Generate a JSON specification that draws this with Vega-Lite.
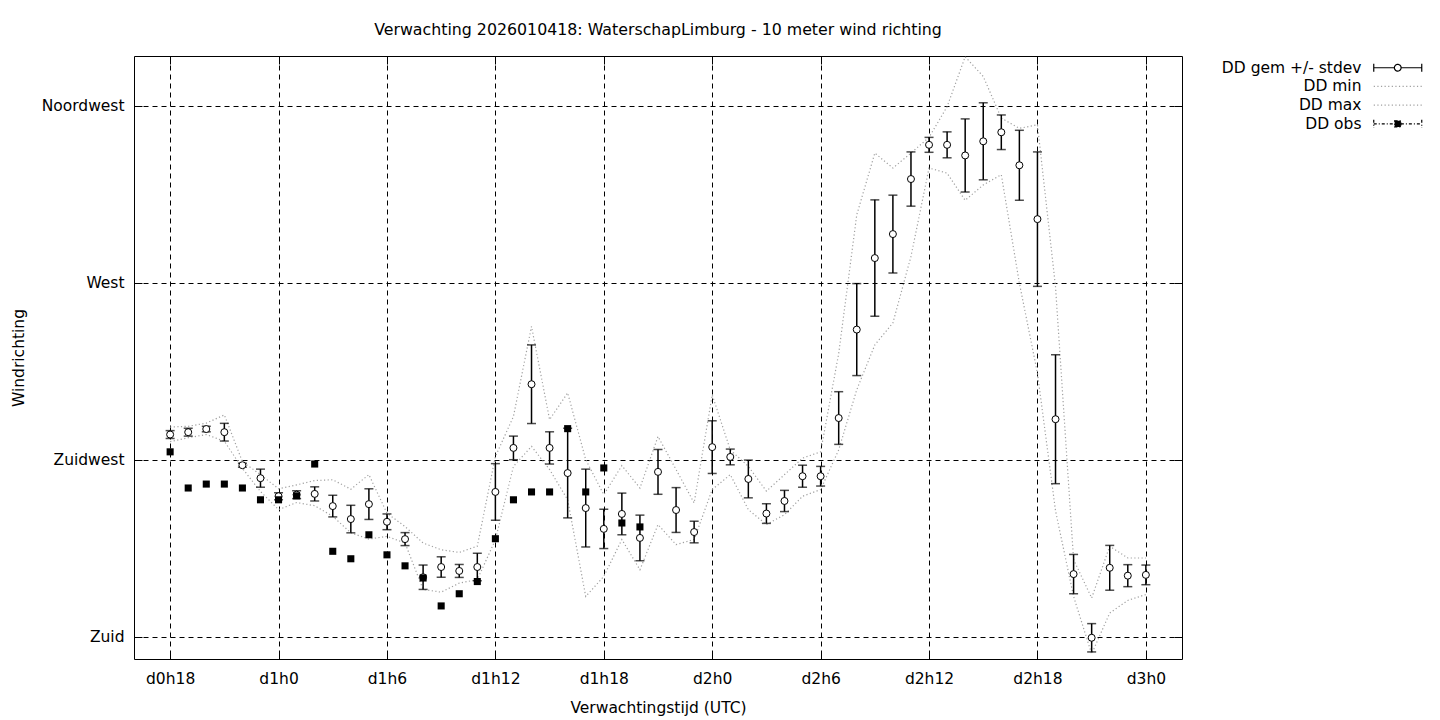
{
  "$schema": "https://vega.github.io/schema/vega-lite/v6.json",
  "width": 1048,
  "height": 603,
  "autosize": {"type": "none"},
  "padding": {"left": 134, "top": 56, "right": 258, "bottom": 61},
  "background": "white",
  "title": {"text": "Verwachting 2026010418: WaterschapLimburg - 10 meter wind richting", "font": "DejaVu Sans", "fontSize": 15.8, "fontWeight": "normal", "color": "black", "anchor": "middle", "baseline": "bottom", "offset": 1},
  "config": {
    "view": {"stroke": "black", "strokeWidth": 1},
    "font": "DejaVu Sans",
    "axis": {"domain": false, "labelFont": "DejaVu Sans", "labelFontSize": 15.5, "labelColor": "black", "titleFont": "DejaVu Sans", "titleFontSize": 15.5, "titleFontWeight": "normal", "titleColor": "black", "tickColor": "black", "tickSize": -8, "tickWidth": 1, "gridColor": "black", "gridOpacity": 1, "gridDash": [5, 4], "gridWidth": 1}
  },
  "datasets": {
    "fc": [
      {"h": 18, "mean": 231.4, "sd": 1.0, "min": 229.6, "max": 233.3, "obs": 227.0},
      {"h": 19, "mean": 232.0, "sd": 1.0, "min": 230.6, "max": 233.5, "obs": 217.8},
      {"h": 20, "mean": 232.8, "sd": 0.7, "min": 231.4, "max": 234.3, "obs": 218.8},
      {"h": 21, "mean": 232.0, "sd": 2.25, "min": 229.7, "max": 236.4, "obs": 218.8},
      {"h": 22, "mean": 223.6, "sd": 0.5, "min": 222.8, "max": 224.5, "obs": 217.8},
      {"h": 23, "mean": 220.3, "sd": 2.3, "min": 216.9, "max": 221.2, "obs": 214.8},
      {"h": 24, "mean": 215.7, "sd": 0.9, "min": 212.3, "max": 217.6, "obs": 214.8},
      {"h": 25, "mean": 216.1, "sd": 1.0, "min": 214.1, "max": 218.6, "obs": 215.8},
      {"h": 26, "mean": 216.3, "sd": 1.8, "min": 213.3, "max": 219.7, "obs": 223.9},
      {"h": 27, "mean": 213.2, "sd": 2.75, "min": 210.6, "max": 219.9, "obs": 201.7},
      {"h": 28, "mean": 209.9, "sd": 3.5, "min": 206.4, "max": 217.5, "obs": 199.8},
      {"h": 29, "mean": 213.7, "sd": 3.9, "min": 204.8, "max": 221.2, "obs": 205.9},
      {"h": 30, "mean": 209.2, "sd": 2.0, "min": 205.5, "max": 211.4, "obs": 200.8},
      {"h": 31, "mean": 204.8, "sd": 1.65, "min": 203.8, "max": 208.0, "obs": 198.0},
      {"h": 32, "mean": 195.1, "sd": 3.1, "min": 192.0, "max": 203.8, "obs": 194.9},
      {"h": 33, "mean": 197.7, "sd": 2.6, "min": 191.3, "max": 202.1, "obs": 187.8},
      {"h": 34, "mean": 196.7, "sd": 1.65, "min": 193.6, "max": 201.4, "obs": 190.9},
      {"h": 35, "mean": 197.7, "sd": 3.5, "min": 194.5, "max": 203.0, "obs": 194.0},
      {"h": 36, "mean": 216.8, "sd": 7.2, "min": 204.6, "max": 225.8, "obs": 204.9},
      {"h": 37, "mean": 228.0, "sd": 3.0, "min": 223.3, "max": 236.0, "obs": 214.8},
      {"h": 38, "mean": 244.2, "sd": 10.0, "min": 228.4, "max": 258.9, "obs": 216.8},
      {"h": 39, "mean": 228.0, "sd": 4.1, "min": 222.5, "max": 235.2, "obs": 216.8},
      {"h": 40, "mean": 221.6, "sd": 11.4, "min": 214.8, "max": 242.0, "obs": 232.9},
      {"h": 41, "mean": 212.7, "sd": 9.9, "min": 190.2, "max": 225.0, "obs": 216.8},
      {"h": 42, "mean": 207.4, "sd": 5.0, "min": 195.3, "max": 216.1, "obs": 222.9},
      {"h": 43, "mean": 211.2, "sd": 5.3, "min": 204.7, "max": 223.5, "obs": 208.9},
      {"h": 44, "mean": 205.1, "sd": 5.8, "min": 197.0, "max": 217.8, "obs": 207.9},
      {"h": 45, "mean": 221.9, "sd": 5.7, "min": 208.5, "max": 230.9},
      {"h": 46, "mean": 212.2, "sd": 5.7, "min": 203.4, "max": 222.5},
      {"h": 47, "mean": 206.6, "sd": 2.75, "min": 204.7, "max": 214.0},
      {"h": 48, "mean": 228.2, "sd": 6.7, "min": 217.4, "max": 241.5},
      {"h": 49, "mean": 225.7, "sd": 2.0, "min": 221.2, "max": 227.5},
      {"h": 50, "mean": 220.1, "sd": 4.8, "min": 212.3, "max": 223.3},
      {"h": 51, "mean": 211.3, "sd": 2.5, "min": 208.5, "max": 217.0},
      {"h": 52, "mean": 214.5, "sd": 2.7, "min": 211.0, "max": 221.2},
      {"h": 53, "mean": 220.8, "sd": 2.8, "min": 215.7, "max": 225.4},
      {"h": 54, "mean": 220.8, "sd": 2.5, "min": 217.4, "max": 227.0},
      {"h": 55, "mean": 235.6, "sd": 6.7, "min": 227.5, "max": 252.0},
      {"h": 56, "mean": 258.1, "sd": 11.7, "min": 242.8, "max": 287.3},
      {"h": 57, "mean": 276.3, "sd": 14.8, "min": 254.2, "max": 303.0},
      {"h": 58, "mean": 282.4, "sd": 9.9, "min": 259.8, "max": 299.2},
      {"h": 59, "mean": 296.4, "sd": 6.9, "min": 276.7, "max": 303.0},
      {"h": 60, "mean": 305.1, "sd": 1.9, "min": 299.2, "max": 307.0},
      {"h": 61, "mean": 305.1, "sd": 3.3, "min": 297.9, "max": 314.8},
      {"h": 62, "mean": 302.4, "sd": 9.3, "min": 291.0, "max": 327.5},
      {"h": 63, "mean": 306.0, "sd": 9.8, "min": 294.9, "max": 322.5},
      {"h": 64, "mean": 308.3, "sd": 4.4, "min": 297.5, "max": 311.9},
      {"h": 65, "mean": 299.9, "sd": 8.9, "min": 269.9, "max": 309.3},
      {"h": 66, "mean": 286.2, "sd": 17.1, "min": 247.0, "max": 310.2},
      {"h": 67, "mean": 235.3, "sd": 16.4, "min": 212.0, "max": 269.0},
      {"h": 68, "mean": 195.9, "sd": 5.0, "min": 190.2, "max": 199.6},
      {"h": 69, "mean": 179.7, "sd": 3.6, "min": 175.6, "max": 189.8},
      {"h": 70, "mean": 197.5, "sd": 5.7, "min": 186.0, "max": 203.0},
      {"h": 71, "mean": 195.5, "sd": 2.8, "min": 189.2, "max": 200.0},
      {"h": 72, "mean": 195.7, "sd": 2.5, "min": 190.7, "max": 200.0}
    ],
    "leg": [
      {"series": "DD gem +/- stdev"},
      {"series": "DD min"},
      {"series": "DD max"},
      {"series": "DD obs"}
    ]
  },
  "layer": [
    {
      "data": {"name": "fc"},
      "mark": {"type": "line", "color": "#a0a0a0", "strokeWidth": 1.2, "strokeDash": [1.2, 2.4]},
      "encoding": {
        "x": {"field": "h", "type": "quantitative", "scale": {"domain": [16, 74], "nice": false, "zero": false},
          "axis": {"orient": "bottom", "values": [18, 24, 30, 36, 42, 48, 54, 60, 66, 72], "labelExpr": "'d' + floor(datum.value / 24) + 'h' + (datum.value % 24)", "grid": true, "labelPadding": 20, "title": "Verwachtingstijd (UTC)", "titlePadding": 14}},
        "y": {"field": "min", "type": "quantitative", "scale": {"domain": [174.3, 327.7], "nice": false, "zero": false},
          "axis": {"orient": "left", "values": [180, 225, 270, 315], "labelExpr": "datum.value == 180 ? 'Zuid' : datum.value == 225 ? 'Zuidwest' : datum.value == 270 ? 'West' : 'Noordwest'", "grid": true, "labelPadding": 18, "title": "Windrichting", "titlePadding": 15}}
      }
    },
    {
      "data": {"name": "fc"},
      "mark": {"type": "line", "color": "#a0a0a0", "strokeWidth": 1.2, "strokeDash": [1.2, 2.4]},
      "encoding": {
        "x": {"field": "h", "type": "quantitative", "scale": {"domain": [16, 74], "nice": false, "zero": false},
          "axis": {"orient": "top", "values": [18, 24, 30, 36, 42, 48, 54, 60, 66, 72], "labels": false, "grid": false, "title": null}},
        "y": {"field": "max", "type": "quantitative", "scale": {"domain": [174.3, 327.7], "nice": false, "zero": false},
          "axis": {"orient": "right", "values": [180, 225, 270, 315], "labels": false, "grid": false, "title": null}}
      }
    },
    {
      "data": {"name": "fc"},
      "mark": {"type": "errorbar", "color": "black", "thickness": 1.5, "ticks": {"size": 9, "thickness": 1.5, "color": "black"}},
      "encoding": {
        "x": {"field": "h", "type": "quantitative", "scale": {"domain": [16, 74], "nice": false, "zero": false}, "axis": null},
        "y": {"field": "mean", "type": "quantitative", "scale": {"domain": [174.3, 327.7], "nice": false, "zero": false}, "axis": null},
        "yError": {"field": "sd"}
      }
    },
    {
      "data": {"name": "fc"},
      "mark": {"type": "point", "shape": "circle", "size": 49, "filled": true, "fill": "white", "stroke": "black", "strokeWidth": 1, "opacity": 1},
      "encoding": {
        "x": {"field": "h", "type": "quantitative", "scale": {"domain": [16, 74], "nice": false, "zero": false}, "axis": null},
        "y": {"field": "mean", "type": "quantitative", "scale": {"domain": [174.3, 327.7], "nice": false, "zero": false}, "axis": null}
      }
    },
    {
      "data": {"name": "fc"},
      "mark": {"type": "point", "shape": "square", "size": 50, "filled": true, "fill": "black", "strokeWidth": 0, "opacity": 1},
      "encoding": {
        "x": {"field": "h", "type": "quantitative", "scale": {"domain": [16, 74], "nice": false, "zero": false}, "axis": null},
        "y": {"field": "obs", "type": "quantitative", "scale": {"domain": [174.3, 327.7], "nice": false, "zero": false}, "axis": null}
      }
    },
    {
      "data": {"name": "leg"},
      "mark": {"type": "point", "size": 144, "opacity": 0, "strokeWidth": 1.2, "filled": true},
      "encoding": {
        "shape": {"field": "series", "type": "nominal",
          "scale": {"domain": ["DD gem +/- stdev", "DD min", "DD max", "DD obs"],
            "range": ["M-4,0L-0.56,0M0.56,0L4,0M-4,-0.68L-4,0.68M4,-0.68L4,0.68M-0.56,0A0.56,0.56,0,1,0,0.56,0A0.56,0.56,0,1,0,-0.56,0Z", "M-4,0L4,0", "M-4,0L4,0", "M-4,0L-0.52,0M0.52,0L4,0M-4,-0.68L-4,0.68M4,-0.68L4,0.68M-0.52,-0.52L0.52,-0.52L0.52,0.52L-0.52,0.52Z"]},
          "legend": {"orient": "none", "legendX": 1256, "legendY": 4, "title": null, "labelFont": "DejaVu Sans", "labelFontSize": 15.5, "labelColor": "black", "labelAlign": "right", "labelOffset": -44, "symbolSize": 144, "symbolStrokeWidth": 1.2, "symbolOpacity": 1, "rowPadding": 1.7, "padding": 0}},
        "fill": {"field": "series", "type": "nominal",
          "scale": {"domain": ["DD gem +/- stdev", "DD min", "DD max", "DD obs"], "range": ["white", "transparent", "transparent", "black"]},
          "legend": {"orient": "none", "legendX": 1256, "legendY": 4, "title": null, "labelFont": "DejaVu Sans", "labelFontSize": 15.5, "labelColor": "black", "labelAlign": "right", "labelOffset": -44, "symbolSize": 144, "symbolStrokeWidth": 1.2, "symbolOpacity": 1, "rowPadding": 1.7, "padding": 0}},
        "stroke": {"field": "series", "type": "nominal",
          "scale": {"domain": ["DD gem +/- stdev", "DD min", "DD max", "DD obs"], "range": ["black", "#a0a0a0", "#a0a0a0", "black"]},
          "legend": {"orient": "none", "legendX": 1256, "legendY": 4, "title": null, "labelFont": "DejaVu Sans", "labelFontSize": 15.5, "labelColor": "black", "labelAlign": "right", "labelOffset": -44, "symbolSize": 144, "symbolStrokeWidth": 1.2, "symbolOpacity": 1, "rowPadding": 1.7, "padding": 0}},
        "strokeDash": {"field": "series", "type": "nominal",
          "scale": {"domain": ["DD gem +/- stdev", "DD min", "DD max", "DD obs"], "range": [[1, 0], [1.2, 2.4], [1.2, 2.4], [3, 2, 1, 2]]},
          "legend": {"orient": "none", "legendX": 1256, "legendY": 4, "title": null, "labelFont": "DejaVu Sans", "labelFontSize": 15.5, "labelColor": "black", "labelAlign": "right", "labelOffset": -44, "symbolSize": 144, "symbolStrokeWidth": 1.2, "symbolOpacity": 1, "rowPadding": 1.7, "padding": 0}}
      }
    }
  ]
}
